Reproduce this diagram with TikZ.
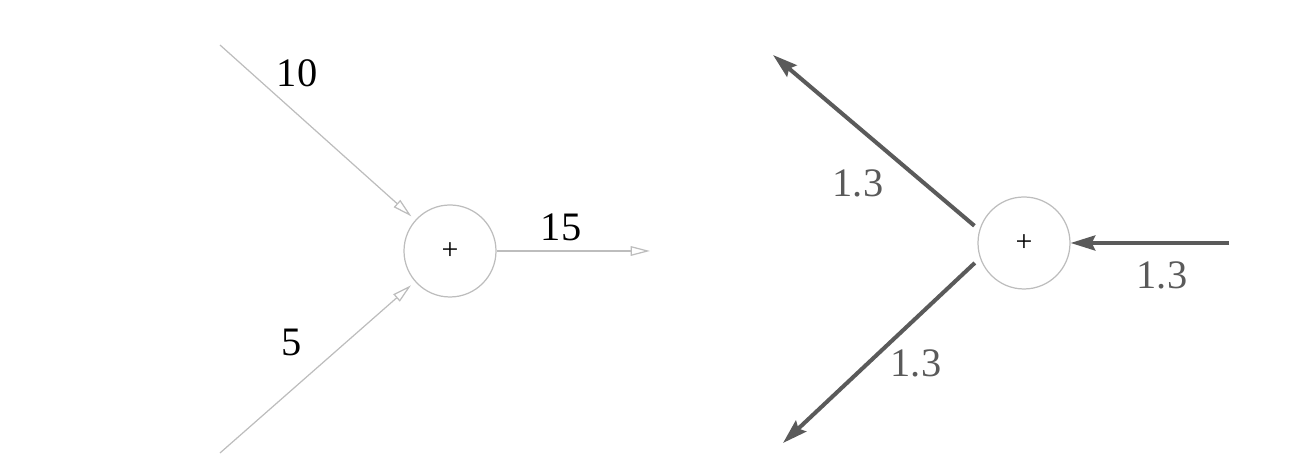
\documentclass[tikz,border=0pt]{standalone}
\usepackage{fontspec}
\setmainfont{Liberation Serif}
\usetikzlibrary{arrows.meta}
\definecolor{cLight}{HTML}{BDBDBD}
\definecolor{cDark}{HTML}{5A5A5A}

\begin{document}
\begin{tikzpicture}[
  every node/.style={font=\fontsize{23}{27}\selectfont},
  sum/.style={circle, draw=cLight, line width=0.7pt, minimum size=1.84cm, inner sep=0pt, font=\fontsize{17}{19}\selectfont},
  fwd/.style={draw=cLight, line width=0.7pt, -{Triangle[open, length=11pt, width=5.5pt]}},
  bwd/.style={draw=cDark, line width=2.3pt, -{Stealth[length=14pt, width=8.5pt, inset=2pt]}},
  grad/.style={text=cDark},
]

\useasboundingbox (0,0) rectangle (26.32,9.48);

% forward pass
\node[sum] (ls) at (9.0,4.46) {+};
\coordinate (xa) at (4.4,8.58);
\coordinate (xb) at (4.4,0.42);
\coordinate (xo) at (13.0,4.46);
\draw[fwd, shorten >=3pt] (xa) -- (ls);
\draw[fwd, shorten >=3pt] (xb) -- (ls);
\draw[fwd] (ls) -- (xo);
\node (la) at (5.94,8.02) {10};
\node (lb) at (5.84,2.64) {5};
\node (lo) at (11.22,4.94) {15};

% backward pass
\node[sum] (rs) at (20.48,4.62) {+};
\coordinate (gi) at (24.58,4.62);
\coordinate (ga) at (15.46,8.38);
\coordinate (gb) at (15.66,0.62);
\draw[bwd] (gi) -- (rs);
\draw[bwd] ([shift={(-0.11,0.04)}]rs.161) -- (ga);
\draw[bwd] ([shift={(-0.12,-0.05)}]rs.202) -- (gb);
\node[grad] (ra) at (17.16,5.82) {1.3};
\node[grad] (rb) at (18.32,2.22) {1.3};
\node[grad] (ri) at (23.24,3.98) {1.3};

\end{tikzpicture}
\end{document}
